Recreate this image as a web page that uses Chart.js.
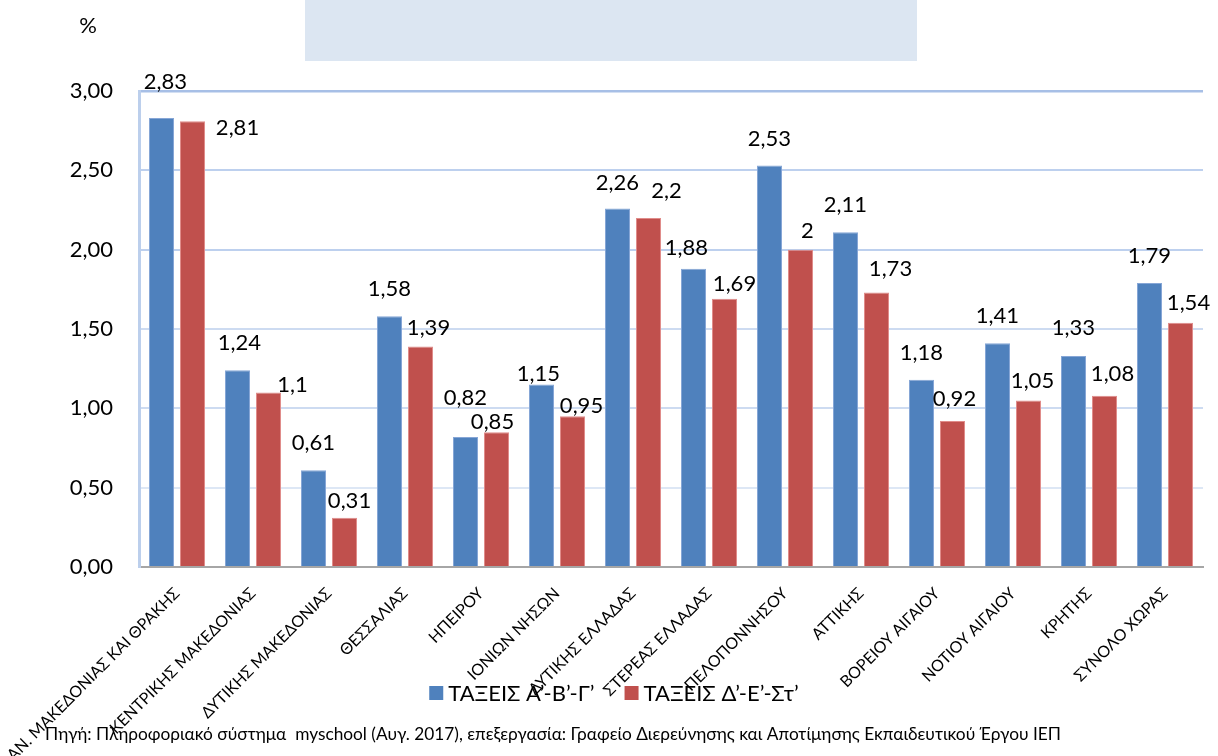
<!DOCTYPE html>
<html>
<head>
<meta charset="utf-8">
<script src="https://cdn.jsdelivr.net/npm/chart.js@4.4.1/dist/chart.umd.min.js"></script>
<style>
html,body{margin:0;padding:0;background:#fff;}
#wrap{width:1218px;height:756px;position:relative;overflow:hidden;}
</style>
</head>
<body>
<div id="wrap"><canvas id="c" width="1218" height="756"></canvas></div>
<script>
// ---- data ----
const categories = [
  'ΑΝ. ΜΑΚΕΔΟΝΙΑΣ ΚΑΙ ΘΡΑΚΗΣ', 'ΚΕΝΤΡΙΚΗΣ ΜΑΚΕΔΟΝΙΑΣ', 'ΔΥΤΙΚΗΣ ΜΑΚΕΔΟΝΙΑΣ', 'ΘΕΣΣΑΛΙΑΣ',
  'ΗΠΕΙΡΟΥ', 'ΙΟΝΙΩΝ ΝΗΣΩΝ', 'ΔΥΤΙΚΗΣ ΕΛΛΑΔΑΣ', 'ΣΤΕΡΕΑΣ ΕΛΛΑΔΑΣ', 'ΠΕΛΟΠΟΝΝΗΣΟΥ',
  'ΑΤΤΙΚΗΣ', 'ΒΟΡΕΙΟΥ ΑΙΓΑΙΟΥ', 'ΝΟΤΙΟΥ ΑΙΓΑΙΟΥ', 'ΚΡΗΤΗΣ', 'ΣΥΝΟΛΟ ΧΩΡΑΣ'
];
const seriesNames = ['ΤΑΞΕΙΣ Α’-Β’-Γ’', 'ΤΑΞΕΙΣ Δ’-Ε’-Στ’'];
const gradesABC = [2.83, 1.24, 0.61, 1.58, 0.82, 1.15, 2.26, 1.88, 2.53, 2.11, 1.18, 1.41, 1.33, 1.79];
const gradesDEF = [2.81, 1.10, 0.31, 1.39, 0.85, 0.95, 2.20, 1.69, 2.00, 1.73, 0.92, 1.05, 1.08, 1.54];
const yTicks = [0, 0.5, 1, 1.5, 2, 2.5, 3];
const unitLabel = '%';
const sourceText = 'Πηγή: Πληροφοριακό σύστημα  myschool (Αυγ. 2017), επεξεργασία: Γραφείο Διερεύνησης και Αποτίμησης Εκπαιδευτικού Έργου ΙΕΠ';

// ---- styling (label nudges relative to default position above each bar) ----
const labelNudgeABC = [[4,-9],[2,0],[0,0],[0,0],[0,-12],[-3,16],[0,1],[-7,6],[0,0],[0,0],[0,0],[0,0],[0,-1],[0,0]];
const labelNudgeDEF = [[45,34],[24,19],[5,10],[8,8],[-4,17],[9,17],[18,0],[10,12],[7,8],[14,3],[2,5],[4,8],[8,5],[8,7]];
const labelNudges = [labelNudgeABC, labelNudgeDEF];
const FONT = 'Lato, "Noto Sans", sans-serif';

function fmtValue(v) { return String(+v.toFixed(2)).replace('.', ','); }
function fmtTick(v) { return v.toFixed(2).replace('.', ','); }

const decor = {
  id: 'decor',
  beforeDraw(chart) {
    const c = chart.ctx;
    c.save();
    c.fillStyle = '#dce6f2';
    c.fillRect(305, 0, 612, 61);
    c.restore();
  },
  afterDatasetsDraw(chart) {
    const c = chart.ctx;
    c.save();
    c.fillStyle = '#000';
    c.font = '22px ' + FONT;
    c.textAlign = 'center';
    c.textBaseline = 'middle';
    chart.data.datasets.forEach((ds, di) => {
      const meta = chart.getDatasetMeta(di);
      meta.data.forEach((bar, i) => {
        const n = labelNudges[di][i];
        c.fillText(fmtValue(ds.data[i]), bar.x + n[0], bar.y - 27 + n[1]);
      });
    });
    // unit label
    c.fillText(unitLabel, 88, 26);
    // legend
    c.font = '22px ' + FONT;
    c.textAlign = 'left';
    const sq = 14, gap = 5, spacing = 30;
    const widths = chart.data.datasets.map(d => c.measureText(d.label).width);
    const total = widths.reduce((a, w) => a + sq + gap + w, 0) + spacing * (widths.length - 1);
    let x = 614 - total / 2;
    const ly = 693;
    chart.data.datasets.forEach((d, i) => {
      c.fillStyle = d.backgroundColor;
      c.fillRect(x, ly - sq / 2, sq, sq);
      c.fillStyle = '#000';
      c.fillText(d.label, x + sq + gap, ly + 1);
      x += sq + gap + widths[i] + spacing;
    });
    // source
    c.font = '17.3px ' + FONT;
    c.fillText(sourceText, 45, 734);
    c.restore();
  }
};

function gridColor(v) {
  if (v >= 3) return '#a7bfe6';
  if (v >= 2) return '#bdd0ee';
  if (v >= 1) return '#cddbf1';
  return '#dde7f5';
}

function build() {
  new Chart(document.getElementById('c'), {
    type: 'bar',
    data: {
      labels: categories,
      datasets: [
        { label: seriesNames[0], data: gradesABC, backgroundColor: '#4f81bd', borderColor: '#86a6d6', borderWidth: 1,
          categoryPercentage: 0.816, barPercentage: 0.806 },
        { label: seriesNames[1], data: gradesDEF, backgroundColor: '#c0504d', borderColor: '#e08c8a', borderWidth: 1,
          categoryPercentage: 0.816, barPercentage: 0.806 }
      ]
    },
    options: {
      responsive: false,
      animation: false,
      devicePixelRatio: 1,
      layout: { padding: { top: 91, right: 15, bottom: 0, left: 0 } },
      plugins: { legend: { display: false }, tooltip: { enabled: false }, title: { display: false } },
      scales: {
        x: {
          grid: { display: false, drawTicks: false },
          border: { display: true, color: '#a6a6a6', width: 2 },
          ticks: { autoSkip: false, maxRotation: 45, minRotation: 45, color: '#000', padding: 17,
                   font: { family: FONT, size: 16 } },
          afterFit(s) { s.height = 189; s.paddingLeft = 0; s.paddingRight = 0; }
        },
        y: {
          min: yTicks[0], max: yTicks[yTicks.length - 1],
          afterBuildTicks(s) { s.ticks = yTicks.map(v => ({ value: v })); },
          grid: { drawTicks: false, color: ctx => gridColor(ctx.tick ? ctx.tick.value : 0),
                  lineWidth: ctx => (ctx.tick && ctx.tick.value >= 3 ? 2.5 : 2) },
          border: { display: true, color: '#bccfec', width: 3 },
          ticks: { color: '#000', padding: 26, font: { family: FONT, size: 22 }, callback: v => fmtTick(v) },
          afterFit(s) { s.width = 139; s.paddingTop = 0; s.paddingBottom = 0; }
        }
      }
    },
    plugins: [decor]
  });
}
if (document.fonts && document.fonts.load) {
  Promise.all([document.fonts.load('22px Lato'), document.fonts.load('22px "Noto Sans"')]).then(build, build);
} else { build(); }
</script>
</body>
</html>
